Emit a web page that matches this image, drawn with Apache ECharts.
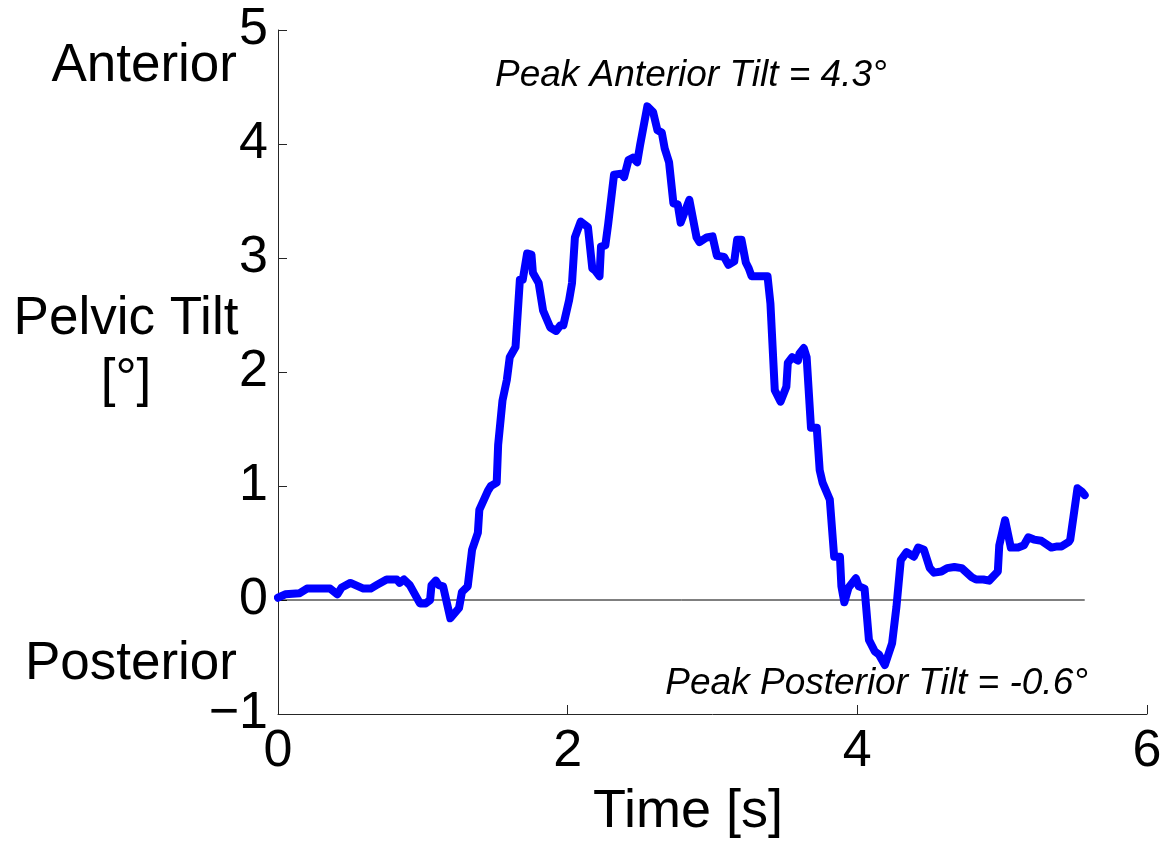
<!DOCTYPE html>
<html>
<head>
<meta charset="utf-8">
<script src="https://cdn.jsdelivr.net/npm/echarts@6/dist/echarts.min.js"></script>
<style>
html,body{margin:0;padding:0;background:#fff;}
#chart{width:1173px;height:844px;}
</style>
</head>
<body>
<div id="chart"></div>
<script>
// Time [s]
var times = [0.0,0.05,0.15,0.2,0.36,0.41,0.44,0.5,0.59,0.64,0.68,0.75,0.82,0.84,0.87,0.91,0.98,1.02,1.05,1.06,
1.09,1.11,1.14,1.19,1.25,1.27,1.31,1.34,1.38,1.39,1.45,1.47,1.51,1.52,1.55,1.58,1.6,1.64,1.67,1.69,
1.72,1.75,1.76,1.8,1.83,1.88,1.92,1.95,1.97,2.01,2.03,2.05,2.09,2.14,2.17,2.19,2.22,2.23,2.26,2.28,
2.32,2.37,2.39,2.42,2.45,2.48,2.5,2.55,2.59,2.62,2.65,2.67,2.7,2.73,2.76,2.78,2.84,2.89,2.91,2.96,
3.0,3.03,3.08,3.11,3.15,3.17,3.2,3.23,3.25,3.27,3.35,3.38,3.4,3.43,3.47,3.51,3.52,3.55,3.59,3.6,
3.63,3.65,3.68,3.72,3.74,3.76,3.81,3.84,3.88,3.89,3.91,3.94,3.99,4.01,4.05,4.08,4.12,4.15,4.19,4.24,
4.27,4.3,4.34,4.39,4.42,4.46,4.5,4.53,4.58,4.62,4.67,4.72,4.79,4.82,4.87,4.91,4.97,4.98,5.02,5.06,
5.11,5.15,5.18,5.22,5.27,5.34,5.38,5.41,5.46,5.47,5.52,5.55,5.57];
// Pelvic tilt [deg]
var tilt = [0.02,0.05,0.06,0.1,0.1,0.05,0.11,0.15,0.1,0.1,0.13,0.18,0.18,0.15,0.18,0.13,-0.03,-0.03,0.0,0.13,
0.17,0.13,0.12,-0.16,-0.07,0.07,0.12,0.44,0.59,0.79,0.96,1.0,1.03,1.36,1.75,1.93,2.13,2.22,2.81,2.81,
3.04,3.03,2.87,2.78,2.54,2.39,2.36,2.41,2.41,2.63,2.78,3.18,3.32,3.27,2.91,2.89,2.84,3.1,3.11,3.3,
3.73,3.74,3.71,3.86,3.88,3.84,3.99,4.33,4.28,4.12,4.1,3.96,3.84,3.48,3.47,3.31,3.51,3.18,3.14,3.18,
3.19,3.02,3.01,2.94,2.97,3.16,3.16,2.96,2.91,2.84,2.84,2.84,2.6,1.84,1.74,1.87,2.08,2.13,2.1,2.16,
2.21,2.13,1.51,1.51,1.14,1.03,0.88,0.38,0.38,0.12,-0.02,0.11,0.19,0.12,0.1,-0.35,-0.45,-0.48,-0.57,-0.38,
-0.06,0.35,0.42,0.38,0.46,0.44,0.28,0.24,0.25,0.28,0.29,0.28,0.2,0.18,0.18,0.17,0.25,0.48,0.7,0.46,
0.46,0.48,0.55,0.53,0.52,0.46,0.47,0.47,0.51,0.53,0.98,0.95,0.92];
var xTicks = [0, 2, 4, 6];
var yTicks = [-1, 0, 1, 2, 3, 4, 5];
var yDirLabels = ['Anterior', 'Pelvic Tilt\n[°]', 'Posterior'];
var annotations = ['Peak Anterior Tilt = 4.3°', 'Peak Posterior Tilt = -0.6°'];
var xTitle = 'Time [s]';

var FONT = '"Liberation Sans", Arial, sans-serif';
var seriesData = times.map(function (t, i) { return [t, tilt[i]]; });
var zeroData = [[times[0], 0], [times[times.length - 1], 0]];

var chart = echarts.init(document.getElementById('chart'), null, {renderer: 'canvas'});
chart.setOption({
  backgroundColor: '#ffffff',
  animation: false,
  grid: {left: 278, right: 26, top: 30, bottom: 130, containLabel: false},
  xAxis: {
    type: 'value', min: xTicks[0], max: xTicks[xTicks.length - 1], interval: 2,
    axisLine: {onZero: false, lineStyle: {color: '#262626', width: 1}},
    axisTick: {inside: true, length: 9, lineStyle: {color: '#262626'}},
    axisLabel: {color: '#000', fontSize: 52, fontFamily: FONT, margin: 12},
    splitLine: {show: false}
  },
  yAxis: {
    type: 'value', min: yTicks[0], max: yTicks[yTicks.length - 1], interval: 1,
    axisLine: {onZero: false, lineStyle: {color: '#262626', width: 1}},
    axisTick: {inside: true, length: 9, lineStyle: {color: '#262626'}},
    axisLabel: {color: '#000', fontSize: 52, fontFamily: FONT, margin: 10,
      formatter: function (v) { return String(v).replace('-', '\u2212'); }},
    splitLine: {show: false}
  },
  series: [
    {type: 'line', data: zeroData, symbol: 'none', silent: true,
      lineStyle: {color: '#000', width: 1}, z: 1},
    {type: 'line', data: seriesData, symbol: 'none',
      lineStyle: {color: '#0000ff', width: 8, join: 'round', cap: 'round'}, z: 2}
  ],
  graphic: [
    {type: 'text', x: 237, y: 66, style: {text: yDirLabels[0], fill: '#000', font: '53px ' + FONT, align: 'right', verticalAlign: 'middle'}},
    {type: 'text', x: 126, y: 350, style: {text: yDirLabels[1], fill: '#000', font: '53px ' + FONT, align: 'center', verticalAlign: 'middle', lineHeight: 62}},
    {type: 'text', x: 237, y: 664, style: {text: yDirLabels[2], fill: '#000', font: '53px ' + FONT, align: 'right', verticalAlign: 'middle'}},
    {type: 'text', x: 495, y: 76, style: {text: annotations[0], fill: '#000', font: 'italic 37px ' + FONT, align: 'left', verticalAlign: 'middle'}},
    {type: 'text', x: 1088, y: 684, style: {text: annotations[1], fill: '#000', font: 'italic 37px ' + FONT, align: 'right', verticalAlign: 'middle'}},
    {type: 'text', x: 688, y: 812, style: {text: xTitle, fill: '#000', font: '54px ' + FONT, align: 'center', verticalAlign: 'middle'}}
  ]
});
</script>
</body>
</html>
